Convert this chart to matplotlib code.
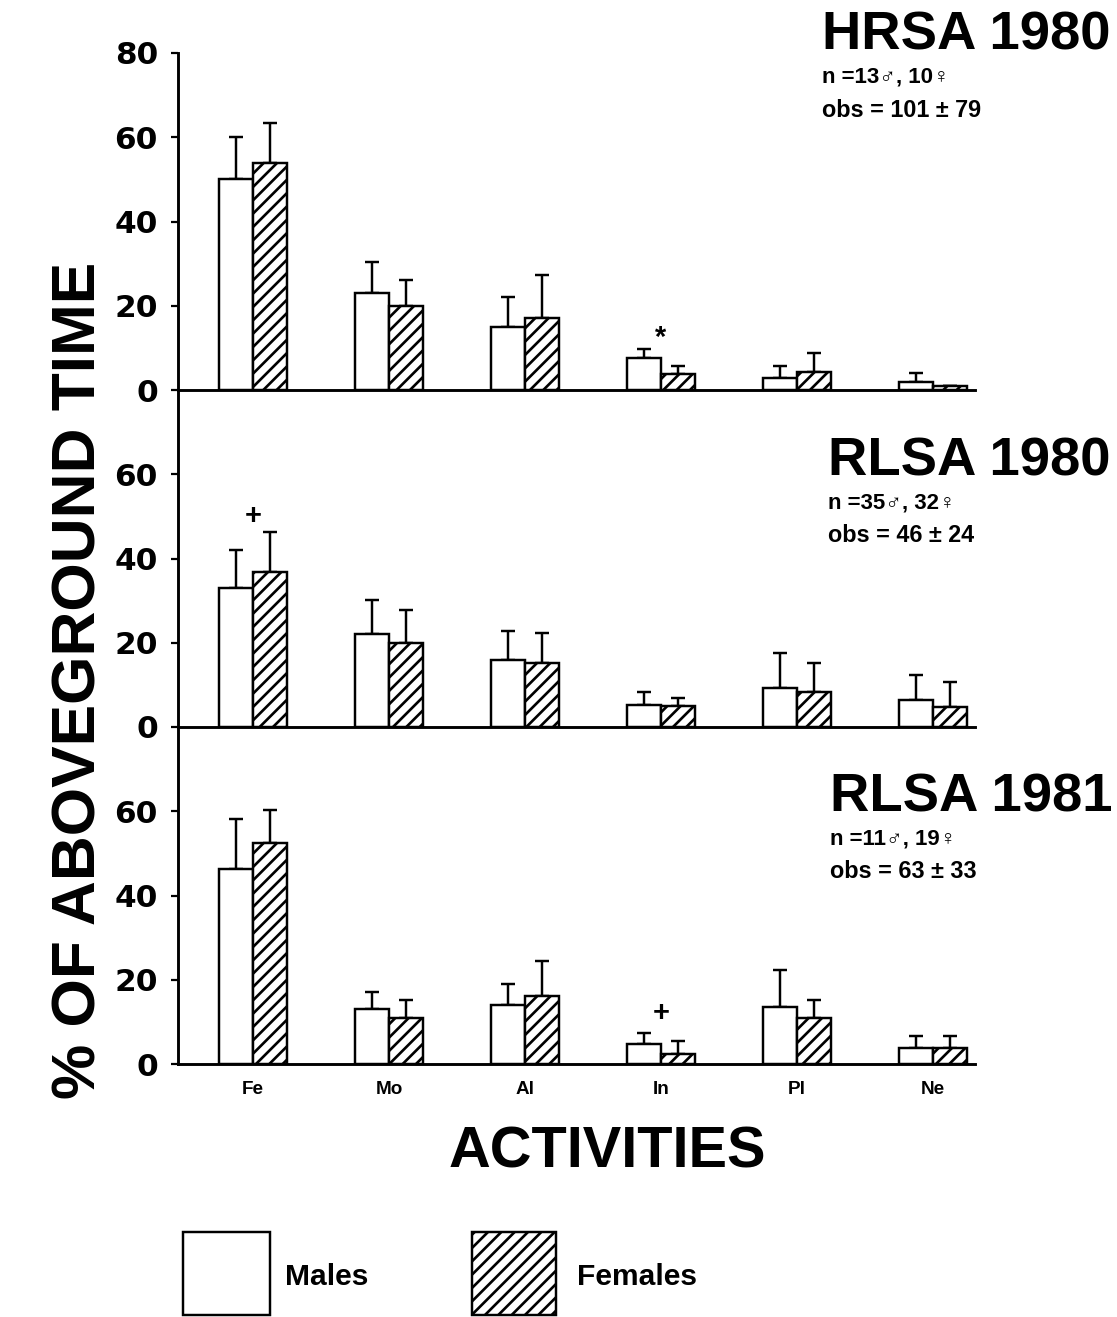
import numpy as np
import matplotlib
matplotlib.use("Agg")
import matplotlib.pyplot as plt
from matplotlib.patches import Rectangle

plt.rcParams['font.family'] = ['Liberation Sans', 'DejaVu Sans']
plt.rcParams['font.weight'] = 'bold'
plt.rcParams['hatch.linewidth'] = 2.4

activities = ["Fe", "Mo", "Al", "In", "Pl", "Ne"]

# HRSA 1980
hrsa80_males = [50, 23, 15, 7.5, 2.8, 2]
hrsa80_males_err = [10, 7.3, 7, 2.2, 3, 2]
hrsa80_females = [54, 20, 17, 3.8, 4.3, 1]
hrsa80_females_err = [9.5, 6, 10.2, 2, 4.5, 0]

# RLSA 1980
rlsa80_males = [33, 22, 16, 5.2, 9.2, 6.4]
rlsa80_males_err = [9, 8.2, 6.7, 3.1, 8.3, 6]
rlsa80_females = [36.8, 20, 15.3, 5, 8.4, 4.8]
rlsa80_females_err = [9.6, 7.8, 7.1, 1.8, 6.7, 5.9]

# RLSA 1981
rlsa81_males = [46.3, 13, 14, 4.7, 13.5, 3.7]
rlsa81_males_err = [11.9, 4.2, 5, 2.6, 8.8, 2.9]
rlsa81_females = [52.4, 10.9, 16.2, 2.4, 10.9, 3.7]
rlsa81_females_err = [7.9, 4.3, 8.3, 3.1, 4.3, 2.9]

panels = [
    ("HRSA 1980", "n =13\u2642, 10\u2640", "obs = 101 \u00b1 79",
     hrsa80_males, hrsa80_males_err, hrsa80_females, hrsa80_females_err),
    ("RLSA 1980", "n =35\u2642, 32\u2640", "obs = 46 \u00b1 24",
     rlsa80_males, rlsa80_males_err, rlsa80_females, rlsa80_females_err),
    ("RLSA 1981", "n =11\u2642, 19\u2640", "obs = 63 \u00b1 33",
     rlsa81_males, rlsa81_males_err, rlsa81_females, rlsa81_females_err),
]
# significance marks: (panel, activity index, y, symbol)
marks = [(0, 3, 12.4, "*"), (1, 0, 50, "+"), (2, 3, 12, "+")]

W, H, DPI = 1117, 1317, 80
fig = plt.figure(figsize=(W / DPI, H / DPI), dpi=DPI)

x = np.arange(len(activities))
bw = 0.25
left, width = 178 / W, (975 - 178) / W
ph = 337 / H
bottoms = [(253 + 2 * 337) / H, (253 + 337) / H, 253 / H]
text_x = [822, 828, 830]
title_base = [50, 475, 811]

axes = []
for k, (title, nline, obs, m, me, f, fe) in enumerate(panels):
    ax = fig.add_axes([left, bottoms[k], width, ph])
    axes.append(ax)
    ax.bar(x - bw / 2, m, bw, color='white', edgecolor='black', linewidth=2.2, zorder=2)
    ax.bar(x + bw / 2, f, bw, color='white', edgecolor='black', linewidth=2.2,
           hatch='//', zorder=2)
    ax.errorbar(x - bw / 2, m, yerr=[np.zeros(len(m)), me], fmt='none', ecolor='black',
                elinewidth=2.2, capsize=6.5, capthick=2.2, zorder=1)
    ax.errorbar(x + bw / 2, f, yerr=[np.zeros(len(f)), fe], fmt='none', ecolor='black',
                elinewidth=2.2, capsize=6.5, capthick=2.2, zorder=1)
    ax.set_xlim(-0.551, 5.309)
    ax.set_ylim(0, 80)
    ax.set_yticks([0, 20, 40, 60, 80] if k == 0 else [0, 20, 40, 60])
    ax.tick_params(axis='y', length=6, width=2, pad=12)
    for lab in ax.get_yticklabels():
        lab.set_fontfamily(['DejaVu Sans'])
        lab.set_fontsize(28)
    for s in ['top', 'right']:
        ax.spines[s].set_visible(False)
    ax.spines['left'].set_linewidth(2.6)
    ax.spines['bottom'].set_linewidth(2.6)
    if k == 2:
        ax.set_xticks(x, activities)
        ax.tick_params(axis='x', length=0, pad=15, labelsize=17)
    else:
        ax.set_xticks([])
    ax.patch.set_alpha(0)

    fig.text(text_x[k] / W, 1 - title_base[k] / H, title, fontsize=49,
             ha='left', va='baseline')
    fig.text(text_x[k] / W, 1 - (title_base[k] + 33) / H, nline, fontsize=20,
             ha='left', va='baseline')
    fig.text(text_x[k] / W, 1 - (title_base[k] + 67) / H, obs, fontsize=21,
             ha='left', va='baseline')

for k, i, yv, sym in marks:
    axes[k].text(x[i], yv, sym, fontsize=26, ha='center', va='center')

fig.text(80 / W, 1 - 680 / H, "% OF ABOVEGROUND TIME", rotation=90, fontsize=56,
         ha='center', va='center')
fig.text(607 / W, 1 - 1167 / H, "ACTIVITIES", fontsize=52, ha='center', va='baseline')

# legend
fig.add_artist(Rectangle((183 / W, 2 / H), 87 / W, 83 / H, transform=fig.transFigure,
                         facecolor='white', edgecolor='black', linewidth=2.2))
fig.add_artist(Rectangle((472 / W, 2 / H), 84 / W, 83 / H, transform=fig.transFigure,
                         facecolor='white', edgecolor='black', linewidth=2.2, hatch='//'))
fig.text(285 / W, 1 - 1285 / H, "Males", fontsize=27, ha='left', va='baseline')
fig.text(577 / W, 1 - 1285 / H, "Females", fontsize=27, ha='left', va='baseline')

fig.savefig("out.png", dpi=DPI, facecolor='white')
